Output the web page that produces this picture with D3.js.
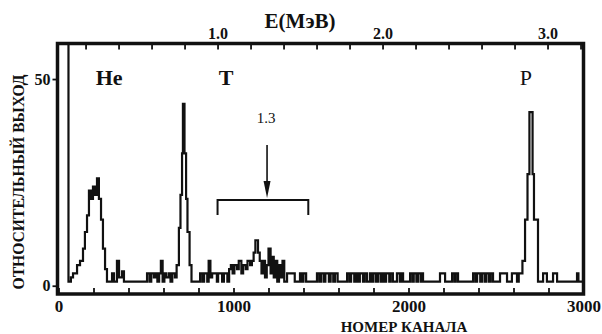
<!DOCTYPE html>
<html>
<head>
<meta charset="utf-8">
<script src="https://cdn.jsdelivr.net/npm/d3@7"></script>
<style>
  body { margin: 0; background: #fff; }
  svg { display: block; }
  svg text { font-family: "Liberation Serif", "DejaVu Serif", serif !important; fill: #111; }
</style>
</head>
<body>
<div id="chart"></div>
<script>
// Spectrum: each bin starts at binStart[i] (channel) and holds counts[i]
const binStart = [0, 57, 71, 83, 106, 123, 140, 151, 163, 174, 186, 197, 209, 220, 231, 243, 254, 266, 277,
  306, 317, 334, 346, 363, 374, 506, 520, 530, 545, 555, 565, 575, 585, 595, 605, 615, 630, 640, 650, 665,
  675, 688, 697, 706, 711, 720, 729, 737, 749, 760,
  809, 822, 832, 850, 858, 868, 878, 905, 912, 935, 945, 965, 975, 985, 995, 1005, 1020, 1030, 1045, 1055,
  1070, 1080, 1095, 1105, 1115, 1125, 1140, 1150, 1160, 1170, 1180, 1190, 1200, 1212, 1220, 1230, 1240,
  1250, 1260, 1270, 1280, 1290, 1306, 1350, 1380, 1392, 1400, 1415, 1477, 1490, 1500, 1515, 1525, 1545,
  1555, 1570, 1580, 1595, 1649, 1662, 1672, 1690, 1700, 1712, 1722, 1740, 1750, 1763, 1780, 1792, 1800,
  1815, 1825, 1840, 1850, 1862, 1872, 1890, 1898, 1911, 1934, 1950, 1958, 1969, 2009, 2022, 2030, 2045,
  2055, 2070, 2076, 2083, 2180, 2209, 2249, 2262, 2270, 2283, 2369, 2382, 2392, 2410, 2420, 2435, 2445,
  2460, 2470, 2483, 2523, 2563, 2591, 2620,
  2630, 2651, 2666, 2680, 2691, 2709, 2717, 2740, 2769, 2791, 2826, 2849, 2963, 2971];
const counts = [80, 1, 2, 3, 5, 6, 9, 13, 17, 23, 21, 24, 22, 26, 21, 16, 9, 4, 1,
  3, 1, 6, 2, 3.5, 1, 3, 1, 3, 2, 3, 1, 3, 6, 1, 3, 2, 3, 1, 3, 2,
  5, 14, 22, 32, 44, 32, 21, 13, 5, 1,
  3, 1, 3, 1, 6, 2, 3, 1, 3, 1, 3, 1, 4, 5, 3, 5, 4, 6, 3, 5,
  4, 6, 5, 6, 8, 11, 8, 6, 3, 6, 2, 5, 9, 3, 7, 2, 6,
  1, 5, 2, 6, 1, 3, 1, 3, 1, 3, 1, 3, 1, 3, 1, 3, 1,
  3, 1, 3, 1, 3, 1, 3, 1, 3, 1, 3, 1, 3, 1, 3, 1, 3,
  1, 3, 1, 3, 1, 3, 1, 3, 1, 3, 1, 3, 1, 3, 1, 3, 1,
  3, 1, 3, 1, 3, 1, 3, 1, 3, 1, 3, 1, 3, 1, 3, 1, 3,
  1, 3, 1, 3, 1, 3, 1,
  3, 6, 16, 27, 42, 27, 16, 1, 3, 1, 3, 1, 3, 1];
const channelEnd = 3000;

const channelTicks = [0, 200, 400, 600, 800, 1000, 1200, 1400, 1600, 1800, 2000, 2200, 2400, 2600, 2800, 3000];
const channelLabels = [0, 1000, 2000, 3000];
const energyTicks = [0.2, 0.4, 0.6, 0.8, 1.0, 1.2, 1.4, 1.6, 1.8, 2.0, 2.2, 2.4, 2.6, 2.8, 3.0, 3.2];
const energyLabels = [1.0, 2.0, 3.0];
const energyAtEnds = [0.036, 3.218];   // energy at channel 0 and channel 3000
const yTicks = [0, 50];

const peakNames = ['He', 'T', 'P'];
const peakLabelChannel = [289, 957, 2671];
const markEnergy = 1.3;
const bracketEnergy = [1.0, 1.55];

const W = 602, H = 334;
const m = { left: 58.5, right: 583.5, top: 43.5, bottom: 294 };

const svg = d3.select('#chart').append('svg')
  .attr('width', W).attr('height', H);

const x = d3.scaleLinear().domain([0, channelEnd]).range([m.left, m.right]);
const e = d3.scaleLinear().domain(energyAtEnds).range([m.left, m.right]);
const y = d3.scaleLinear().domain([-2, 58.6]).range([m.bottom, m.top]);

svg.append('clipPath').attr('id', 'plot')
  .append('rect').attr('x', m.left).attr('y', m.top)
  .attr('width', m.right - m.left).attr('height', m.bottom - m.top);

// trace
const pts = binStart.map((c, i) => [c, counts[i]]);
pts.push([channelEnd, counts[counts.length - 1]]);
const line = d3.line().x(d => x(d[0])).y(d => y(d[1])).curve(d3.curveStepAfter);
svg.append('path')
  .datum(pts)
  .attr('clip-path', 'url(#plot)')
  .attr('fill', 'none')
  .attr('stroke', '#111')
  .attr('stroke-width', 2.2)
  .attr('d', line);

// bottom axis (channels)
const gx = svg.append('g').attr('transform', `translate(0,${m.bottom})`)
  .call(d3.axisBottom(x).tickValues(channelTicks).tickSize(-6).tickPadding(6)
    .tickFormat(d => channelLabels.includes(d) ? d : ''));
// top axis (energy)
const ge = svg.append('g').attr('transform', `translate(0,${m.top})`)
  .call(d3.axisTop(e).tickValues(energyTicks).tickSize(-6).tickPadding(5)
    .tickFormat(d => energyLabels.some(v => Math.abs(v - d) < 1e-6) ? d3.format('.1f')(d) : ''));
// left axis
const gy = svg.append('g').attr('transform', `translate(${m.left - 2},0)`)
  .call(d3.axisLeft(y).tickValues(yTicks).tickSize(4).tickPadding(2));

[gx, ge, gy].forEach(g => {
  g.select('.domain').remove();
  g.selectAll('line').attr('stroke', '#111').attr('stroke-width', 1.8);
});
gx.selectAll('text').attr('font-size', 17).attr('font-weight', 'bold');
ge.selectAll('text').attr('font-size', 16).attr('font-weight', 'bold');
gy.selectAll('text').attr('font-size', 16).attr('font-weight', 'bold');

// frame
svg.append('rect')
  .attr('x', m.left - 1).attr('y', m.top).attr('width', m.right - m.left + 1).attr('height', m.bottom - m.top)
  .attr('fill', 'none').attr('stroke', '#111').attr('stroke-width', 3.5);

// titles
svg.append('text').attr('x', 300).attr('y', 28).attr('text-anchor', 'middle')
  .attr('font-size', 21).attr('font-weight', 'bold').text('E(МэВ)');
svg.append('text').attr('x', 404).attr('y', 332).attr('text-anchor', 'middle')
  .attr('font-size', 15).attr('font-weight', 'bold').text('НОМЕР КАНАЛА');
svg.append('text')
  .attr('transform', 'translate(24,182) rotate(-90)')
  .attr('text-anchor', 'middle')
  .attr('font-size', 16).attr('font-weight', 'bold')
  .attr('textLength', 215).attr('lengthAdjust', 'spacingAndGlyphs')
  .text('ОТНОСИТЕЛЬНЫЙ ВЫХОД');

// peak labels
svg.selectAll('.peak').data(peakNames).join('text')
  .attr('class', 'peak')
  .attr('x', (d, i) => x(peakLabelChannel[i]))
  .attr('y', 85)
  .attr('text-anchor', 'middle')
  .attr('font-size', 22)
  .attr('font-weight', d => d === 'P' ? 'normal' : 'bold')
  .text(d => d);

// 1.3 MeV marker: label, arrow and bracket
const mx = e(markEnergy);
svg.append('text').attr('x', mx - 1).attr('y', 123).attr('text-anchor', 'middle')
  .attr('font-size', 15).text(d3.format('.1f')(markEnergy));
svg.append('line').attr('x1', mx).attr('x2', mx).attr('y1', 145).attr('y2', 184)
  .attr('stroke', '#111').attr('stroke-width', 1.6);
svg.append('path')
  .attr('d', `M${mx - 3.5},181 L${mx + 3.5},181 L${mx},198 Z`)
  .attr('fill', '#111');
const b0 = e(bracketEnergy[0]), b1 = e(bracketEnergy[1]);
svg.append('path')
  .attr('d', `M${b0},215 L${b0},200 L${b1},200 L${b1},215`)
  .attr('fill', 'none').attr('stroke', '#111').attr('stroke-width', 2);
</script>
</body>
</html>
